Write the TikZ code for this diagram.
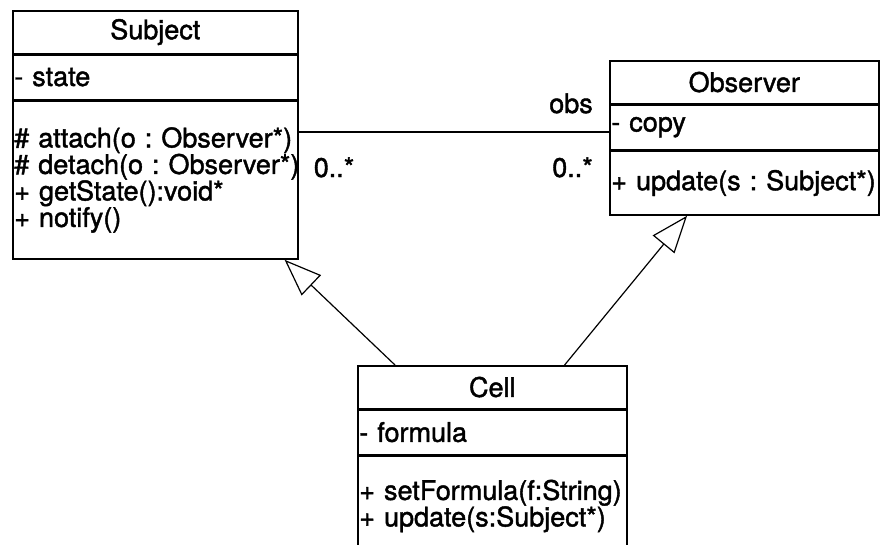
\documentclass[tikz,border=0pt]{standalone}
\usepackage{fontspec}
\setmainfont[FakeBold=1.5]{TeX Gyre Heros}
\usetikzlibrary{arrows.meta,calc}
\newcommand{\umlfont}{\fontsize{27}{26.5}\selectfont\hyphenpenalty=10000\hbadness=10000\hfuzz=20pt}
\tikzstyle{assoc edge} = [line width=1.3pt]
\tikzstyle{inherit edge} = [line width=1.2pt,-{Triangle[open,length=37pt,width=28pt]}]

\begin{document}
\begin{tikzpicture}
[x=1pt,y=-1pt,
classTitle/.style={draw,line width=1.6pt,anchor=north west,inner xsep=1.5pt,inner ysep=0pt,align=center,font=\umlfont},
classBody/.style={classTitle,align=left},
multiplicity/.style={inner sep=0pt,font=\umlfont}]

\useasboundingbox (0,0) rectangle (880,544);
\clip (0,0) rectangle (880,544);

%% classes: name and attribute compartments
\foreach \cname/\x/\y/\w/\title/\attr in {
subject/12/10/285/Subject/- state, observer/609/60/269/Observer/- copy, cell/357/365/269/Cell/- formula}
{
\pgfmathsetmacro\tw{\w-3}
\node (\cname-title) at (\x,\y) [classTitle,text width=\tw pt,minimum height=42.5pt] {\title};
\node (\cname-attr) at (\cname-title.south west) [classBody,text width=\tw pt,minimum height=44.5pt] {\attr};
}

%% operation compartments
\node (subject-ops) at (subject-attr.south west) [classBody,text width=282pt,minimum height=158pt]
{\#~attach(o~:~Observer*)\\\#~detach(o~:~Observer*)\\+~getState():void*\\+~notify()};
\node (observer-ops) at (observer-attr.south west) [classBody,text width=266pt,minimum height=64pt]
{+~update(s~:~Subject*)};
\node (cell-ops) at (cell-attr.south west) [classBody,text width=266pt,minimum height=100pt]
{+~setFormula(f:String)\\+~update(s:Subject*)};

%% association with its role and multiplicities
\coordinate (assocY) at (0,132);
\draw[assoc edge] (subject-ops.east |- assocY) -- (observer-attr.west |- assocY);
\node (obsRole) at ($(observer-attr.west |- assocY)+(-16,-19)$) [multiplicity,anchor=base east] {obs};
\node (obsMult) at ($(observer-attr.west |- assocY)+(-16,45)$) [multiplicity,anchor=base east] {0..*};
\node (subjMult) at ($(subject-ops.east |- assocY)+(15,45)$) [multiplicity,anchor=base west] {0..*};

%% generalisations
\draw[inherit edge] ($(cell-title.north west)+(38,0)$) -- ($(subject-ops.south east)+(-14,0)$);
\draw[inherit edge] ($(cell-title.north east)+(-63,0)$) -- ($(observer-ops.south west)+(78,0)$);

\end{tikzpicture}
\end{document}
